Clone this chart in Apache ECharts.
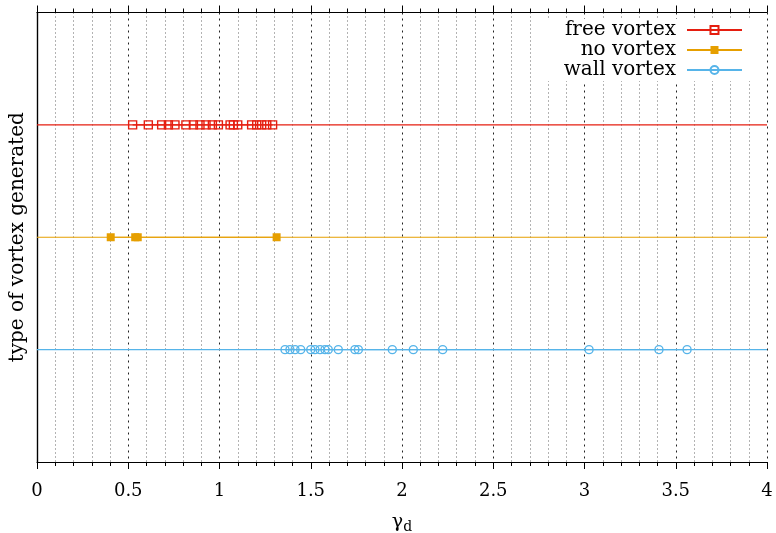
<!DOCTYPE html>
<html>
<head>
<meta charset="utf-8">
<script src="https://cdn.jsdelivr.net/npm/echarts@6/dist/echarts.min.js"></script>
<style>
  html, body { margin: 0; padding: 0; background: #fff; }
  #chart { width: 776px; height: 533px; }
</style>
</head>
<body>
<div id="chart"></div>
<script>
// Observed gamma_d values, grouped by the type of vortex generated
const seriesNames = ['free vortex', 'no vortex', 'wall vortex'];
const levels = [3, 2, 1];            // vertical row for each group
const colors = ['#e51e10', '#e69f00', '#56b4e9'];

const freeVortex = [0.524, 0.61, 0.683, 0.72, 0.756, 0.816, 0.857, 0.893, 0.926, 0.961,
                    0.994, 1.058, 1.076, 1.10, 1.176, 1.204, 1.231, 1.259, 1.291];
const noVortex = [0.404, 0.538, 0.552, 1.313];
const wallVortex = [1.359, 1.386, 1.414, 1.445, 1.50, 1.523, 1.551, 1.578, 1.596, 1.651,
                    1.742, 1.761, 1.947, 2.062, 2.223, 3.025, 3.408, 3.562];

const xTicks = ['0', '0.5', '1', '1.5', '2', '2.5', '3', '3.5', '4'];
const xRange = [0, 4];

const FONT = 'DejaVu Serif';
const groups = [freeVortex, noVortex, wallVortex];
const symbols = ['rect', 'rect', 'circle'];
const symbolSizes = [8, 8, 8];
const filled = [false, true, false];

const series = [];
groups.forEach((vals, i) => {
  // full-width baseline of each group
  series.push({
    type: 'line',
    data: xRange.map(x => [x, levels[i]]),
    symbol: 'none',
    silent: true,
    animation: false,
    lineStyle: { color: colors[i], width: 1.2 },
    emphasis: { disabled: true },
    z: 2
  });
  // the measured points
  series.push({
    name: seriesNames[i],
    type: 'line',
    data: vals.map(v => [v, levels[i]]),
    symbol: symbols[i],
    symbolSize: symbolSizes[i],
    showAllSymbol: true,
    animation: false,
    color: colors[i],
    lineStyle: { color: colors[i], width: 1.2 },
    itemStyle: filled[i]
      ? { color: colors[i], borderColor: colors[i], borderWidth: 0 }
      : { color: 'rgba(255,255,255,0)', borderColor: colors[i], borderWidth: 1.4 },
    emphasis: { disabled: true },
    z: 3
  });
});

const chart = echarts.init(document.getElementById('chart'), null, { renderer: 'canvas' });

const axisBase = {
  type: 'value',
  min: xRange[0],
  max: xRange[1],
  interval: 0.5,
  minorTick: { show: true, splitNumber: 5, length: 4, lineStyle: { color: '#000', width: 1 } },
  axisTick: { show: true, inside: false, length: 7, lineStyle: { color: '#000', width: 1 } },
  axisLine: { show: true, onZero: false, lineStyle: { color: '#000', width: 1.2 } }
};

chart.setOption({
  backgroundColor: '#fff',
  animation: false,
  textStyle: { fontFamily: FONT },
  grid: { left: 37, right: 9, top: 12.5, bottom: 71, containLabel: false, outerBoundsMode: 'none' },
  legend: {
    orient: 'vertical',
    right: 23,
    top: 19,
    align: 'right',
    itemWidth: 55,
    itemHeight: 10,
    itemGap: 0,
    padding: [1, 10, 1, 12],
    backgroundColor: '#fff',
    selectedMode: false,
    data: seriesNames,
    textStyle: {
      fontFamily: FONT, fontSize: 20, lineHeight: 20, color: '#000',
      width: 120, align: 'right', padding: [0, 6, 0, 0]
    }
  },
  xAxis: [
    Object.assign({}, axisBase, {
      position: 'bottom',
      axisLabel: {
        show: true, margin: 20, fontFamily: FONT, fontSize: 18, color: '#000',
        formatter: (v) => xTicks[Math.round(v * 2)] ?? ''
      },
      splitLine: { show: true, lineStyle: { color: '#222', width: 1, type: [2, 4] } },
      minorSplitLine: { show: true, lineStyle: { color: '#666', width: 1, type: [1, 3] } },
      name: '{g|γ}{s|d}',
      nameLocation: 'middle',
      nameGap: 48,
      nameTextStyle: {
        fontFamily: FONT, color: '#000',
        rich: {
          g: { fontFamily: FONT, fontSize: 19, color: '#000' },
          s: { fontFamily: FONT, fontSize: 14, color: '#000', padding: [10, 0, 0, 0] }
        }
      }
    }),
    Object.assign({}, axisBase, {
      position: 'top',
      axisLabel: { show: false },
      splitLine: { show: false },
      minorSplitLine: { show: false }
    })
  ],
  yAxis: [
    {
      type: 'value', min: 0, max: 4, position: 'left',
      axisLine: { show: true, lineStyle: { color: '#000', width: 1.2 } },
      axisTick: { show: false }, axisLabel: { show: false }, splitLine: { show: false },
      name: 'type of vortex generated',
      nameLocation: 'middle',
      nameGap: 9,
      nameRotate: 90,
      nameTextStyle: { fontFamily: FONT, fontSize: 20, color: '#000' }
    },
    {
      type: 'value', min: 0, max: 4, position: 'right',
      axisLine: { show: true, lineStyle: { color: '#000', width: 1.2 } },
      axisTick: { show: false }, axisLabel: { show: false }, splitLine: { show: false }
    }
  ],
  series: series
});
</script>
</body>
</html>
